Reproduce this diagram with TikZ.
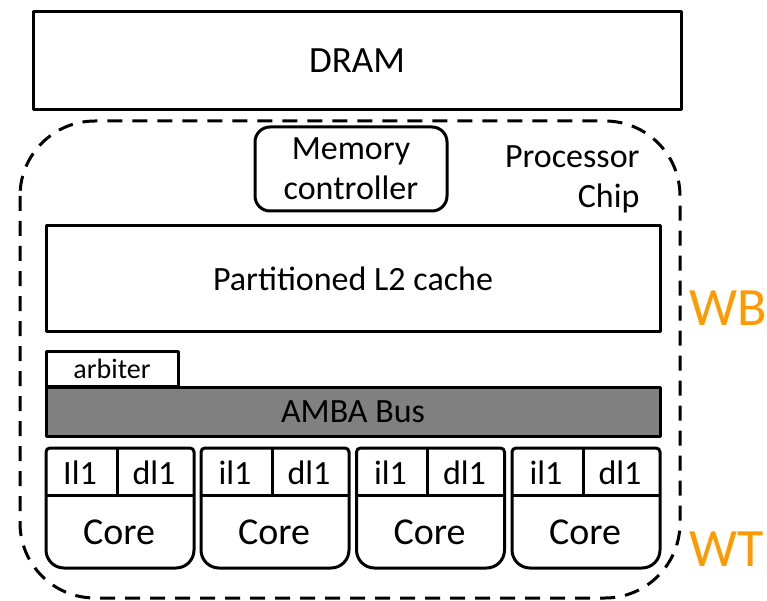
\documentclass[tikz,border=0pt]{standalone}
\usepackage{fontspec}
\setmainfont{Carlito}
\definecolor{wborange}{RGB}{255,153,0}
\definecolor{busgray}{RGB}{128,128,128}
\begin{document}
\begin{tikzpicture}[x=1pt,y=-1pt,line width=3pt,
  box/.style={draw,line join=round,inner sep=0pt,outer sep=0pt,
    font=\fontsize{34}{40}\selectfont},
  txt/.style={inner sep=0pt,font=\fontsize{34}{39}\selectfont},
  big/.style={inner sep=0pt,text=wborange,font=\fontsize{54}{60}\selectfont},
  chipline/.style={dash pattern=on 15pt off 10pt,rounded corners=75pt}]
\useasboundingbox (0,0) rectangle (767,601);

% off-chip memory
\node[box,minimum width=648pt,minimum height=98pt,font=\fontsize{37}{42}\selectfont]
  (dram) at (357,61) {DRAM};

% chip outline
\draw[chipline] (20,121) rectangle (680,598);

% memory controller
\node[box,rounded corners=15pt,minimum width=192pt,minimum height=84pt,
  align=center] (mc) at (351,169) {Memory\\controller};

% chip label
\node[txt,anchor=base east] (proc) at (641,168) {Processor};
\node[txt,anchor=base east] (chip) at (641,208) {Chip};

% shared cache
\node[box,minimum width=614pt,minimum height=105pt,font=\fontsize{34}{39}\selectfont]
  (l2) at (353,278.5) {Partitioned L2 cache};

% bus and arbiter
\node[box,minimum width=132pt,minimum height=35pt,font=\fontsize{28}{32}\selectfont]
  (arb) at (112,368.5) {arbiter};
\node[box,fill=busgray,minimum width=614pt,minimum height=49pt]
  (bus) at (353,411.5) {AMBA Bus};

% cores with private L1 caches
\foreach \i/\x/\il in {1/46/Il1,2/201/il1,3/356.5/il1,4/512/il1}{
  \draw[rounded corners=4pt] (\x,495) -- (\x,448) -- (\x+148,448) -- (\x+148,495);
  \draw[rounded corners=18pt] (\x+148,495) -- (\x+148,568) -- (\x,568) -- (\x,495);
  \draw (\x,495) -- (\x+148,495);
  \draw (\x+71,448) -- (\x+71,495);
  \node[txt] (il\i) at (\x+34,473) {\il};
  \node[txt] (dl\i) at (\x+108,473) {dl1};
  \node[box,draw=none,font=\fontsize{38}{42}\selectfont] (core\i) at (\x+73,532) {Core};
}

% write policies
\node[big,anchor=west] (wb) at (688,308) {WB};
\node[big,anchor=west] (wt) at (688,549) {WT};
\end{tikzpicture}
\end{document}
